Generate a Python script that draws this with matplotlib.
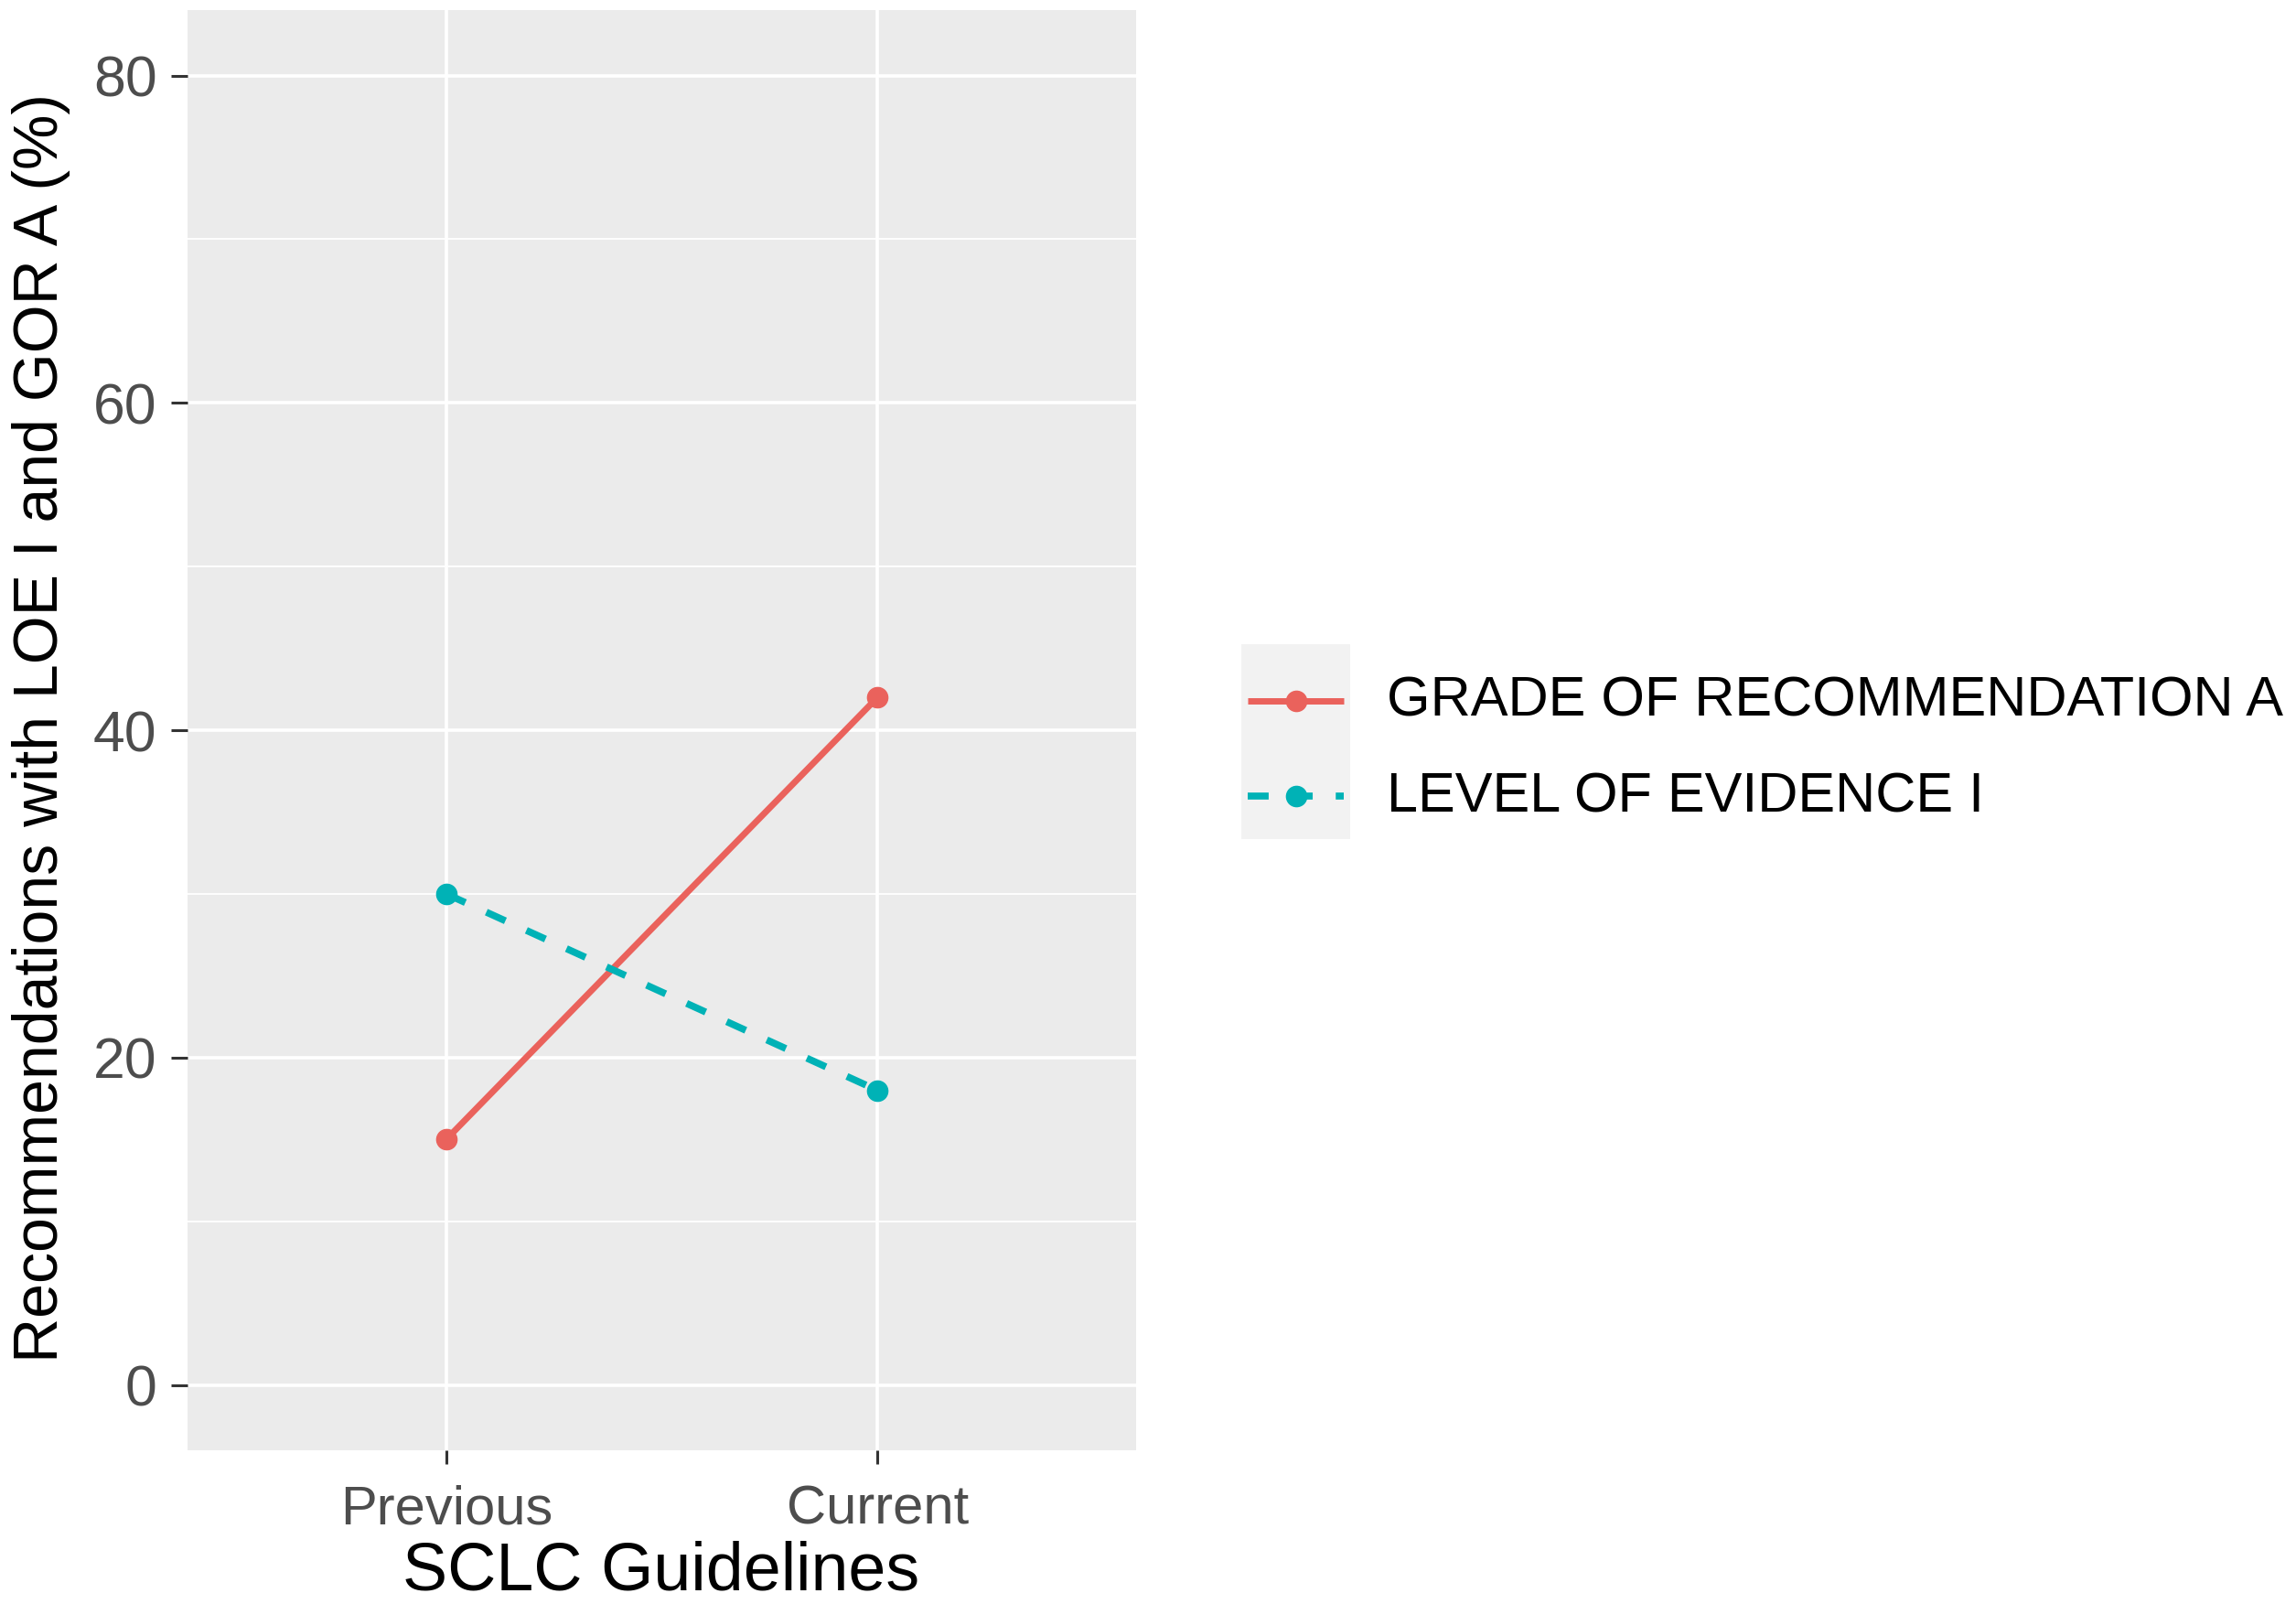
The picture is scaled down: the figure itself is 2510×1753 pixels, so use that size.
import matplotlib
matplotlib.use("Agg")
import matplotlib.pyplot as plt
from matplotlib.lines import Line2D

plt.rcParams['font.family'] = ['Liberation Sans', 'DejaVu Sans']

# data
guidelines = ['Previous', 'Current']
gor_a = [15, 42]
loe_1 = [30, 18]
series_names = ['GRADE OF RECOMMENDATION A', 'LEVEL OF EVIDENCE I']
y_ticks = [0, 20, 40, 60, 80]
y_minor = [10, 30, 50, 70]

RED = '#EA625C'
TEAL = '#00B2B6'
PANEL = '#EBEBEB'
DASH = (3, 3.3)
MS = 16

fig = plt.figure(figsize=(25.1, 17.53), dpi=100)
fig.patch.set_facecolor('white')
ax = fig.add_axes([0.0817, 0.0958, 0.4131, 0.8979])
ax.set_facecolor(PANEL)

ax.plot(guidelines, gor_a, color=RED, lw=5, marker='o', markersize=MS, zorder=3)
ax.plot(guidelines, loe_1, color=TEAL, lw=5.5, dashes=DASH, marker='o',
        markersize=MS, zorder=3)

ax.set_xlim(-0.6, 1.6)
ax.set_ylim(-4, 84)
ax.set_yticks(y_ticks)
ax.set_yticks(y_minor, minor=True)

# ggplot-like grid
ax.grid(True, which='major', color='white', lw=2.6, zorder=0)
ax.grid(True, which='minor', axis='y', color='white', lw=1.3, zorder=0)
ax.set_axisbelow(True)
for s in ax.spines.values():
    s.set_visible(False)

ax.tick_params(axis='both', which='major', width=2.2, color='#333333',
               labelcolor='#4D4D4D')
ax.tick_params(axis='y', which='major', length=13, pad=11, labelsize=45)
ax.tick_params(axis='x', which='major', length=11, pad=16, labelsize=43)
ax.tick_params(axis='y', which='minor', length=0)

fig.text(0.288, 0.020, 'SCLC Guidelines', fontsize=53, ha='center', va='center')
fig.text(0.018, 0.546, 'Recommendations with LOE I and GOR A (%)', fontsize=49,
         rotation=90, ha='center', va='center')

# legend drawn by hand, ggplot style
lax = fig.add_axes([1357 / 2510, 1 - 917 / 1753, 119 / 2510, 213 / 1753])
lax.set_facecolor('#F2F2F2')
lax.set_xlim(0, 1)
lax.set_ylim(0, 2)
lax.set_xticks([])
lax.set_yticks([])
for s in lax.spines.values():
    s.set_visible(False)
lax.add_line(Line2D([0.06, 0.5, 0.94], [1.42, 1.42, 1.42], color=RED, lw=5,
                    marker='o', markersize=MS, markevery=[1],
                    solid_capstyle='butt'))
lax.add_line(Line2D([0.06, 0.5, 0.94], [0.44, 0.44, 0.44], color=TEAL, lw=5.5,
                    dashes=DASH, marker='o', markersize=MS, markevery=[1]))

fig.text(1516 / 2510, 1 - 767 / 1753, series_names[0], fontsize=44, va='center')
fig.text(1516 / 2510, 1 - 872 / 1753, series_names[1], fontsize=44, va='center')

fig.savefig('out.png', dpi=100)
